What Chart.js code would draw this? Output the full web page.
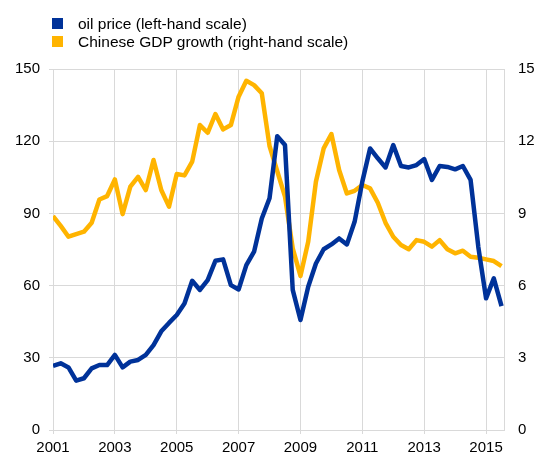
<!DOCTYPE html>
<html>
<head>
<meta charset="utf-8">
<script src="https://cdn.jsdelivr.net/npm/chart.js@4/dist/chart.umd.min.js"></script>
<style>
html,body{margin:0;padding:0;background:#fff;}
#wrap{position:relative;width:539px;height:457px;overflow:hidden;}
#c{position:absolute;left:0;top:0;}
.lg{position:absolute;left:52px;height:20px;line-height:20px;font-family:"Liberation Sans",Arial,sans-serif;font-size:15.5px;color:#000;white-space:nowrap;}
.lg span.sq{position:absolute;left:0;top:4.5px;width:11px;height:11px;}
.lg span.tx{position:absolute;left:26px;top:0;}
</style>
</head>
<body>
<div id="wrap">
<canvas id="c" width="539" height="457"></canvas>
</div>
<script>
// ---- data ----
const quarters = [
 "2001Q1","2001Q2","2001Q3","2001Q4","2002Q1","2002Q2","2002Q3","2002Q4",
 "2003Q1","2003Q2","2003Q3","2003Q4","2004Q1","2004Q2","2004Q3","2004Q4",
 "2005Q1","2005Q2","2005Q3","2005Q4","2006Q1","2006Q2","2006Q3","2006Q4",
 "2007Q1","2007Q2","2007Q3","2007Q4","2008Q1","2008Q2","2008Q3","2008Q4",
 "2009Q1","2009Q2","2009Q3","2009Q4","2010Q1","2010Q2","2010Q3","2010Q4",
 "2011Q1","2011Q2","2011Q3","2011Q4","2012Q1","2012Q2","2012Q3","2012Q4",
 "2013Q1","2013Q2","2013Q3","2013Q4","2014Q1","2014Q2","2014Q3","2014Q4",
 "2015Q1","2015Q2","2015Q3"
];
const oilPrice = [
 26.6, 27.7, 26.0, 20.5, 21.5, 25.6, 27.0, 27.0,
 31.2, 26.0, 28.4, 29.1, 31.2, 35.3, 41.0, 44.5,
 47.8, 52.6, 62.0, 58.2, 62.3, 70.3, 70.9, 60.2,
 58.4, 68.5, 74.1, 87.9, 96.3, 122.1, 118.4, 58.2,
 45.7, 59.5, 69.2, 75.1, 77.1, 79.6, 77.1, 86.5,
 103.2, 117.0, 112.9, 109.1, 118.4, 109.7, 109.1, 110.1,
 112.6, 103.9, 109.7, 109.3, 108.3, 109.7, 103.9, 76.0,
 54.7, 63.0, 51.5
];
const chinaGdp = [
 8.89, 8.48, 8.03, 8.14, 8.24, 8.61, 9.58, 9.72,
 10.41, 8.97, 10.11, 10.52, 9.97, 11.22, 9.97, 9.28,
 10.64, 10.58, 11.15, 12.67, 12.35, 13.13, 12.49, 12.67,
 13.85, 14.51, 14.33, 13.99, 11.8, 10.75, 9.7, 7.55,
 6.40, 7.82, 10.32, 11.70, 12.30, 10.80, 9.83, 9.94,
 10.18, 10.04, 9.44, 8.61, 8.03, 7.69, 7.51, 7.89,
 7.82, 7.62, 7.89, 7.51, 7.34, 7.45, 7.20, 7.16,
 7.09, 7.02, 6.81
];
const seriesNames = ["oil price (left-hand scale)", "Chinese GDP growth (right-hand scale)"];
const seriesColors = ["#003299", "#FFB400"];
const xTickYears = [2001, 2003, 2005, 2007, 2009, 2011, 2013, 2015];

// ---- helpers ----
function qToYear(q){ return parseInt(q.slice(0,4),10) + (parseInt(q.slice(5),10)-1)/4; }
const xs = quarters.map(qToYear);

// legend (HTML text)
const wrap = document.getElementById('wrap');
seriesNames.forEach((name,i)=>{
  const d = document.createElement('div');
  d.className = 'lg';
  d.style.top = (13.5 + i*18) + 'px';
  d.innerHTML = '<span class="sq" style="background:'+seriesColors[i]+'"></span><span class="tx"></span>';
  d.querySelector('.tx').textContent = name;
  wrap.appendChild(d);
});

const font = {family:'"Liberation Sans", Arial, sans-serif', size:15};
const gridCol = '#d9d9d9';

new Chart(document.getElementById('c'), {
  type:'line',
  data:{
    datasets:[
      {label:seriesNames[0], data:xs.map((x,i)=>({x:x,y:oilPrice[i]})), yAxisID:'y',
       borderColor:seriesColors[0], backgroundColor:seriesColors[0], borderWidth:4.5,
       pointRadius:0, tension:0, fill:false, borderJoinStyle:'round', borderCapStyle:'butt'},
      {label:seriesNames[1], data:xs.map((x,i)=>({x:x,y:chinaGdp[i]})), yAxisID:'y2',
       borderColor:seriesColors[1], backgroundColor:seriesColors[1], borderWidth:4.5,
       pointRadius:0, tension:0, fill:false, borderJoinStyle:'round', borderCapStyle:'butt'}
    ]
  },
  options:{
    responsive:false, animation:false,
    layout:{padding:{top:69,left:0,right:0,bottom:0}},
    plugins:{legend:{display:false}, tooltip:{enabled:false}},
    scales:{
      x:{type:'linear', min:2001, max:2015.58,
         afterBuildTicks:s=>{ s.ticks = xTickYears.map(v=>({value:v})); },
         grid:{color:gridCol, tickLength:4, lineWidth:1},
         border:{color:gridCol},
         ticks:{font:font, color:'#000', padding:5, maxRotation:0, autoSkip:false, callback:v=>String(v)},
         afterFit:s=>{ s.height = 27; }},
      y:{position:'left', min:0, max:150,
         ticks:{stepSize:30, padding:9, font:font, color:'#000'},
         grid:{color:gridCol, tickLength:4},
         border:{color:gridCol},
         afterFit:s=>{ s.width = 53; }},
      y2:{position:'right', min:0, max:15,
         ticks:{stepSize:3, padding:14, font:font, color:'#000'},
         grid:{display:false, drawTicks:false},
         border:{color:gridCol},
         afterFit:s=>{ s.width = 35; }}
    }
  }
});
</script>
</body>
</html>
